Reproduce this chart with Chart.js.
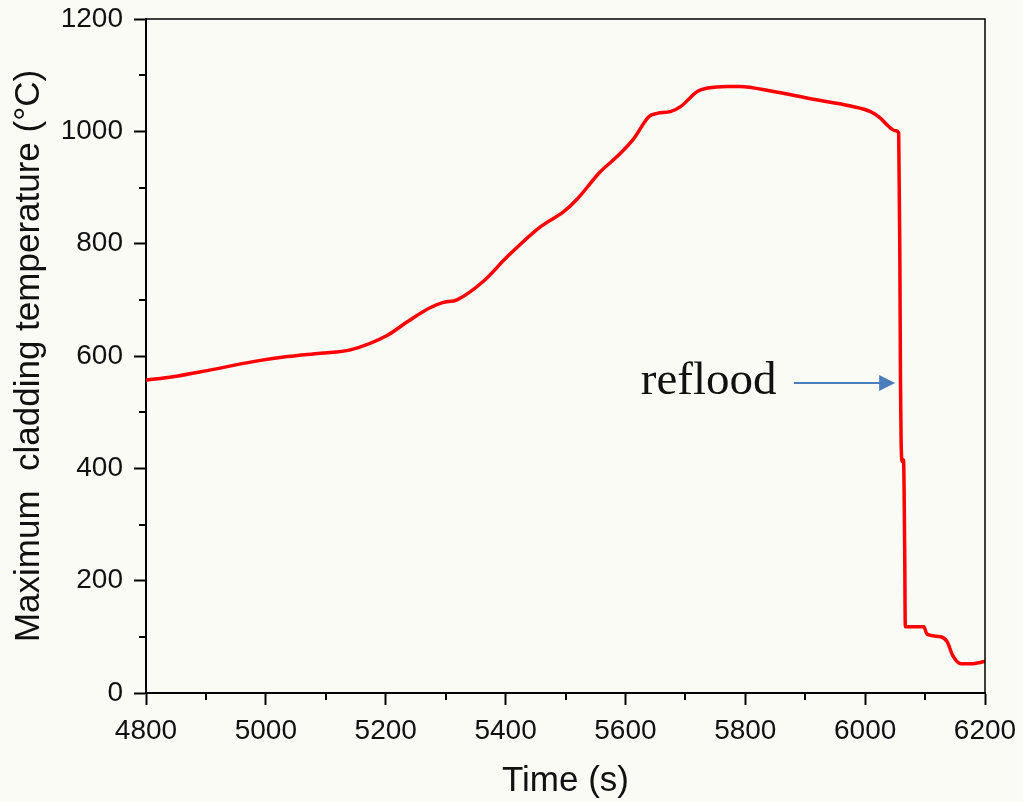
<!DOCTYPE html>
<html>
<head>
<meta charset="utf-8">
<script src="https://cdn.jsdelivr.net/npm/chart.js@4.4.0/dist/chart.umd.min.js"></script>
<style>
  html, body { margin: 0; padding: 0; background: #fbfbf6; }
  #wrap { width: 1023px; height: 802px; }
</style>
</head>
<body>
<div id="wrap"><canvas id="tempChart"></canvas></div>
<script>
// Data (time in s, max cladding temperature in °C)
const times = [
  4800, 4845, 4902, 4979, 5036, 5091, 5141, 5203, 5236, 5274, 5295, 5319,
  5363, 5403, 5458, 5497, 5520, 5558, 5586, 5614, 5639, 5653, 5675, 5692,
  5720, 5737, 5770, 5790, 5847, 5914, 5976, 6009, 6026, 6037, 6051, 6056,
  6058, 6059, 6060, 6062, 6064, 6066, 6067, 6098, 6103, 6126, 6137, 6146,
  6160, 6176, 6200
];
const temps = [
  557, 563, 574, 590, 599, 605, 611, 637, 661, 686, 695, 700,
  733, 777, 830, 857, 880, 928, 955, 987, 1026, 1032, 1035, 1044,
  1071, 1077, 1080, 1080, 1071, 1057, 1045, 1035, 1023, 1011, 1001, 997,
  760, 552, 450, 412, 415, 255, 118, 118, 105, 100, 91, 67,
  52, 52, 56
];
const xTicks = [4800, 5000, 5200, 5400, 5600, 5800, 6000, 6200];
const yTicks = [0, 200, 400, 600, 800, 1000, 1200];

// annotation
const noteText = "reflood";
const noteTextAt = [5852, 532];
const arrowFrom = [5881, 552];
const arrowTo = [6050, 552];

const points = times.map((t, i) => ({ x: t, y: temps[i] }));

// Background, frame, minor ticks and annotation
const extras = {
  id: "extras",
  beforeDraw(chart) {
    const ctx = chart.ctx;
    ctx.save();
    ctx.fillStyle = "#fbfbf6";
    ctx.fillRect(0, 0, chart.width, chart.height);
    ctx.restore();
  },
  afterDraw(chart) {
    const ctx = chart.ctx;
    const a = chart.chartArea;
    const xs = chart.scales.x;
    const ys = chart.scales.y;
    ctx.save();
    // top + right frame
    ctx.strokeStyle = "#000";
    ctx.lineWidth = 1.5;
    ctx.beginPath();
    ctx.moveTo(a.left, a.top);
    ctx.lineTo(a.right, a.top);
    ctx.lineTo(a.right, a.bottom);
    ctx.stroke();

    // minor ticks
    ctx.lineWidth = 2;
    ctx.beginPath();
    for (let v = xTicks[0] + 100; v < xTicks[xTicks.length - 1]; v += 200) {
      const px = Math.round(xs.getPixelForValue(v));
      ctx.moveTo(px, a.bottom);
      ctx.lineTo(px, a.bottom + 7);
    }
    for (let v = yTicks[0] + 100; v < yTicks[yTicks.length - 1]; v += 200) {
      const py = Math.round(ys.getPixelForValue(v));
      ctx.moveTo(a.left, py);
      ctx.lineTo(a.left - 7, py);
    }
    ctx.stroke();

    // reflood label
    ctx.fillStyle = "#111";
    ctx.font = "47px 'Liberation Serif', serif";
    ctx.textAlign = "right";
    ctx.textBaseline = "alphabetic";
    ctx.fillText(noteText, xs.getPixelForValue(noteTextAt[0]), ys.getPixelForValue(noteTextAt[1]));

    // arrow
    const x1 = xs.getPixelForValue(arrowFrom[0]);
    const x2 = xs.getPixelForValue(arrowTo[0]);
    const y1 = ys.getPixelForValue(arrowFrom[1]);
    ctx.strokeStyle = "#4a7ebb";
    ctx.fillStyle = "#4a7ebb";
    ctx.lineWidth = 2;
    ctx.beginPath();
    ctx.moveTo(x1, y1);
    ctx.lineTo(x2 - 14, y1);
    ctx.stroke();
    ctx.beginPath();
    ctx.moveTo(x2, y1);
    ctx.lineTo(x2 - 16, y1 - 8);
    ctx.lineTo(x2 - 16, y1 + 8);
    ctx.closePath();
    ctx.fill();
    ctx.restore();
  }
};

Chart.defaults.font.family = "'Liberation Sans', Arial, sans-serif";
Chart.defaults.color = "#111";

new Chart(document.getElementById("tempChart"), {
  type: "line",
  data: {
    datasets: [{
      data: points,
      borderColor: "#ff0000",
      borderWidth: 3.5,
      pointRadius: 0,
      cubicInterpolationMode: "monotone",
      fill: false
    }]
  },
  options: {
    responsive: true,
    maintainAspectRatio: false,
    animation: false,
    layout: { padding: { left: 0, top: 19, right: 38, bottom: 0 } },
    plugins: {
      legend: { display: false },
      tooltip: { enabled: false }
    },
    scales: {
      x: {
        type: "linear",
        min: 4800,
        max: 6200,
        afterBuildTicks: (s) => { s.ticks = xTicks.map(v => ({ value: v })); },
        afterFit: (s) => { s.height = 109; s.paddingLeft = 0; s.paddingRight = 0; },
        ticks: { font: { size: 28 }, padding: 9, color: "#111", maxRotation: 0, callback: (v) => String(v) },
        grid: { drawOnChartArea: false, drawTicks: true, tickLength: 12, tickWidth: 2, tickColor: "#000" },
        border: { display: true, color: "#000", width: 2 },
        title: { display: true, text: "Time (s)", font: { size: 35 }, color: "#111", padding: { top: 0, bottom: 0 } }
      },
      y: {
        min: 0,
        max: 1200,
        afterBuildTicks: (s) => { s.ticks = yTicks.map(v => ({ value: v })); },
        afterFit: (s) => { s.width = 146; s.paddingTop = 0; s.paddingBottom = 0; },
        ticks: { font: { size: 28 }, padding: 11, color: "#111", callback: (v) => String(v) },
        grid: { drawOnChartArea: false, drawTicks: true, tickLength: 12, tickWidth: 2, tickColor: "#000" },
        border: { display: true, color: "#000", width: 2 },
        title: { display: true, text: "Maximum  cladding temperature (°C)", font: { size: 35 }, color: "#111", padding: { top: 8, bottom: 0 } }
      }
    }
  },
  plugins: [extras]
});
</script>
</body>
</html>
